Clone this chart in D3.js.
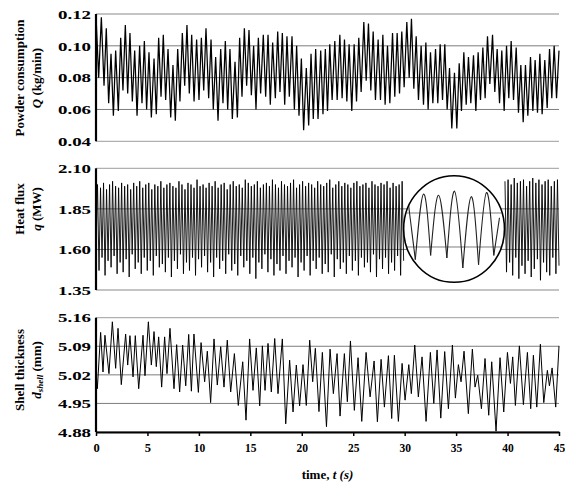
<!DOCTYPE html>
<html><head><meta charset="utf-8">
<script src="https://cdn.jsdelivr.net/npm/d3@7"></script>
<style>
html,body{margin:0;padding:0;background:#fff;}
svg{display:block;}
text{font-family:"Liberation Serif","Times New Roman",serif;font-weight:bold;fill:#000;}
</style></head><body>
<svg id="chart" width="565" height="488"></svg>
<script>
// ---------------- DATA ----------------
const timeTicks = [0, 5, 10, 15, 20, 25, 30, 35, 40, 45];
const pcTicks = [0.04, 0.06, 0.08, 0.10, 0.12];
const hfTicks = [1.35, 1.60, 1.85, 2.10];
const stTicks = [4.88, 4.95, 5.02, 5.09, 5.16];

// Powder consumption Q (kg/min): times (s) and values of the trace turning points
const pcT = [0,0.26,0.52,0.78,1.00,1.23,1.46,1.69,1.91,2.17,2.40,2.62,2.85,3.08,3.30,3.53,3.76,3.99,4.24,4.47,
 4.70,4.92,5.15,5.38,5.64,5.86,6.09,6.32,6.54,6.77,7.00,7.26,7.48,7.71,7.94,8.16,8.39,8.62,8.84,9.07,
 9.30,9.53,9.78,10.01,10.24,10.47,10.69,10.95,11.18,11.40,11.63,11.86,12.12,12.34,12.57,12.80,13.02,13.25,13.51,13.74,
 13.96,14.19,14.42,14.64,14.87,15.10,15.32,15.55,15.78,16.00,16.26,16.49,16.72,16.94,17.17,17.43,17.66,17.88,18.11,18.34,
 18.56,18.79,19.05,19.28,19.50,19.73,19.96,20.18,20.44,20.67,20.90,21.12,21.35,21.58,21.84,22.06,22.29,22.50,22.72,22.95,
 23.21,23.44,23.70,23.92,24.15,24.38,24.60,24.86,25.09,25.32,25.54,25.77,26.03,26.26,26.48,26.71,26.94,27.16,27.42,27.65,
 27.88,28.10,28.33,28.56,28.82,29.04,29.27,29.50,29.72,29.95,30.21,30.44,30.66,30.89,31.12,31.34,31.60,31.83,32.06,32.28,
 32.51,32.74,33.00,33.22,33.45,33.68,33.90,34.13,34.36,34.58,34.84,35.07,35.30,35.52,35.75,35.98,36.20,36.43,36.69,36.92,
 37.14,37.37,37.60,37.82,38.05,38.28,38.54,38.76,38.99,39.22,39.44,39.67,39.90,40.12,40.35,40.58,40.84,41.06,41.29,41.52,
 41.74,41.97,42.23,42.46,42.68,42.91,43.14,43.36,43.62,43.85,44.08,44.30,44.53,44.76,45.00];
const pcV = [0.119,0.080,0.118,0.075,0.111,0.064,0.095,0.056,0.097,0.059,0.105,0.072,0.113,0.070,0.108,0.065,0.097,0.056,0.100,0.064,
 0.103,0.060,0.096,0.055,0.092,0.057,0.105,0.068,0.107,0.066,0.098,0.055,0.088,0.053,0.098,0.065,0.108,0.075,0.113,0.070,
 0.107,0.065,0.104,0.066,0.105,0.072,0.111,0.067,0.104,0.060,0.093,0.053,0.098,0.064,0.103,0.060,0.098,0.054,0.090,0.055,
 0.105,0.068,0.111,0.075,0.110,0.069,0.100,0.060,0.105,0.070,0.107,0.068,0.107,0.063,0.102,0.067,0.109,0.071,0.108,0.063,
 0.106,0.068,0.106,0.060,0.100,0.056,0.092,0.047,0.086,0.050,0.095,0.054,0.098,0.054,0.097,0.057,0.098,0.059,0.101,0.066,
 0.103,0.066,0.107,0.067,0.104,0.065,0.101,0.059,0.101,0.065,0.105,0.071,0.115,0.078,0.114,0.072,0.109,0.066,0.104,0.066,
 0.107,0.063,0.100,0.064,0.108,0.068,0.108,0.070,0.109,0.074,0.115,0.080,0.117,0.073,0.106,0.066,0.100,0.063,0.102,0.060,
 0.096,0.064,0.098,0.064,0.101,0.066,0.101,0.060,0.086,0.048,0.083,0.048,0.089,0.059,0.096,0.063,0.093,0.064,0.094,0.059,
 0.096,0.066,0.099,0.067,0.106,0.076,0.107,0.071,0.098,0.064,0.097,0.059,0.100,0.067,0.103,0.066,0.099,0.058,0.088,0.052,
 0.088,0.056,0.093,0.059,0.091,0.058,0.095,0.057,0.091,0.061,0.098,0.067,0.100,0.067,0.097];

// Heat flux q (MW): turning points, evenly sampled over 0-29.9 s and 39.75-45 s
const hfA = [1.60,2.00,1.47,1.98,1.55,2.01,1.44,1.97,1.53,2.00,
 1.49,2.02,1.56,1.99,1.45,1.98,1.52,2.01,1.46,1.99,
 1.54,2.00,1.43,1.97,1.57,2.01,1.48,1.99,1.52,2.02,
 1.45,1.98,1.55,2.00,1.47,2.01,1.53,1.97,1.44,2.00,
 1.56,1.99,1.49,2.02,1.51,1.98,1.46,2.00,1.55,2.01,
 1.43,1.99,1.53,1.98,1.48,2.02,1.57,2.00,1.45,1.97,
 1.52,2.01,1.47,2.00,1.55,1.98,1.44,2.03,1.54,1.99,
 1.49,2.00,1.56,1.98,1.46,2.01,1.52,1.99,1.43,2.02,
 1.55,1.98,1.48,2.00,1.53,2.01,1.45,1.97,1.57,2.00,
 1.47,2.02,1.51,1.99,1.44,2.00,1.56,1.98,1.49,2.03,
 1.53,2.01,1.45,1.99,1.55,2.00,1.42,2.02,1.52,1.98,
 1.48,2.00,1.57,2.01,1.46,1.99,1.54,2.03,1.44,2.00,
 1.51,1.98,1.47,2.02,1.56,2.00,1.45,1.99,1.53,2.01,
 1.49,2.03,1.55,1.98,1.43,2.00,1.52,2.02,1.47,1.99,
 1.56,2.01,1.44,2.00,1.53,1.98,1.48,2.02,1.55,2.00,
 1.45,1.99,1.51,2.01,1.46,2.03,1.57,1.98,1.43,2.00,
 1.54,2.02,1.48,1.99,1.52,2.01,1.45,2.00,1.56,1.98,
 1.47,2.01,1.53,2.02,1.44,1.99,1.55,2.00,1.49,2.01,
 1.52,1.98,1.46,2.02,1.57,2.00,1.43,1.99,1.54,2.01,
 1.48,2.00,1.55,2.02,1.45,1.98,1.52,2.01,1.47,1.99,
 1.56,2.00,1.44,2.02,1.53];
const hfARange = [0, 29.9];
const hfB = [2.02,1.46,2.03,1.52,2.00,1.44,2.04,1.55,2.01,1.42,
 2.02,1.50,2.03,1.45,1.99,1.53,2.02,1.43,2.04,1.48,
 2.01,1.54,2.03,1.41,2.00,1.52,2.02,1.46,2.03,1.44,
 1.99,1.55,2.02,1.45,2.03,1.50];
const hfBRange = [39.75, 45];

// Zoomed inset (local time in s, value in MW)
const insetT = [0.06,0.197,0.337,0.455,0.589,0.729,0.859,0.998,1.14,1.263,1.397,1.52,1.616];
const insetV = [1.99,1.507,1.99,1.538,1.98,1.519,2.01,1.446,1.97,1.47,2.00,1.538,1.815];
const insetDomainT = [0, 1.7];
const insetGrid = [1.60, 1.85];
const insetWindow = [29.9, 39.7];   // time span hidden by the circle
const insetCenterQ = 1.726;

// Shell thickness d_shell (mm)
const stT = [0,0.13,0.45,0.68,0.87,1.26,1.59,1.91,2.14,2.46,2.88,3.08,3.30,3.60,3.82,4.15,4.57,4.76,5.09,5.38,
 5.64,5.86,6.09,6.38,6.67,6.90,7.19,7.58,7.84,8.13,8.42,8.72,9.01,9.27,9.52,9.95,10.21,10.56,10.82,11.14,
 11.47,11.79,12.12,12.44,12.76,13.09,13.45,13.83,14.26,14.58,14.93,15.26,15.58,15.91,16.17,16.43,16.72,17.04,17.37,17.69,
 18.11,18.44,18.82,19.15,19.47,19.79,20.12,20.44,20.77,21.06,21.32,21.67,22.00,22.40,22.75,23.07,23.43,23.72,24.14,24.43,
 24.73,25.11,25.47,25.83,26.25,26.64,27.03,27.35,27.71,28.03,28.42,28.74,29.00,29.39,29.75,30.04,30.40,30.65,30.98,31.33,
 31.69,32.08,32.50,32.83,33.15,33.51,33.89,34.25,34.64,34.93,35.22,35.48,35.77,36.19,36.58,36.84,37.10,37.46,37.81,38.17,
 38.46,38.88,39.27,39.63,39.99,40.28,40.50,40.76,41.15,41.54,41.93,42.25,42.51,42.84,43.19,43.52,43.87,44.07,44.33,44.68,45.00];
const stV = [5.030,4.986,5.124,5.027,5.117,5.023,5.150,5.036,5.134,4.996,5.120,5.044,5.116,5.015,5.116,4.986,5.117,5.018,5.150,5.044,
 5.126,5.040,5.113,4.990,5.113,5.023,5.134,4.986,5.094,4.978,5.093,4.993,5.119,4.980,5.120,4.977,5.099,5.003,5.078,4.952,
 5.108,4.995,5.089,4.990,5.105,4.978,5.072,4.945,5.052,4.909,5.108,4.982,5.086,4.944,5.091,4.982,5.097,4.978,5.109,4.974,
 5.108,4.900,5.056,4.929,5.044,4.944,5.045,4.945,5.105,5.003,5.085,4.930,5.075,4.893,5.083,4.974,5.072,4.919,5.072,4.954,
 5.103,4.933,5.062,4.906,5.075,4.966,5.054,4.905,5.058,4.941,5.067,4.913,5.068,4.906,5.048,4.958,5.045,4.974,5.093,4.966,
 5.064,4.906,5.075,4.950,5.081,4.914,5.077,4.937,5.093,4.963,5.045,5.003,5.078,4.925,5.083,4.990,5.019,4.937,5.060,4.921,
 5.052,4.882,5.062,4.929,5.075,4.999,5.064,4.945,5.091,4.947,5.075,4.937,5.068,4.941,5.095,4.952,5.031,4.993,5.037,4.941,5.091];

// ---------------- CHART ----------------
const svg = d3.select("#chart");
const x = d3.scaleLinear().domain([0, 45]).range([96, 559]);
const yPC = d3.scaleLinear().domain([0.04, 0.12]).range([141.3, 14]);
const yHF = d3.scaleLinear().domain([1.35, 2.10]).range([290, 168.3]);
const yST = d3.scaleLinear().domain([4.88, 5.16]).range([432, 317.7]);

function grid(y, ticks) {
  const g = svg.append("g");
  const dmin = d3.min(ticks), dmax = d3.max(ticks);
  ticks.forEach(t => {
    const edge = (t === dmin || t === dmax);
    g.append("line").attr("x1", x(0)).attr("x2", x(45))
      .attr("y1", y(t)).attr("y2", y(t))
      .attr("stroke", edge ? "#b0b0b0" : "#7d7d7d")
      .attr("stroke-width", edge ? 1.3 : 1);
  });
  g.selectAll("text").data(ticks).join("text")
    .attr("x", 91).attr("y", d => y(d)).attr("dy", "0.38em")
    .attr("text-anchor", "end")
    .attr("font-size", "12.5px")
    .attr("textLength", 33).attr("lengthAdjust", "spacingAndGlyphs")
    .text(d => d3.format(".2f")(d));
}
function leftAxis(y) {
  const r = y.range();
  svg.append("line").attr("x1", x(0)).attr("x2", x(0))
    .attr("y1", r[0]).attr("y2", r[1])
    .attr("stroke", "#000").attr("stroke-width", 2.2);
}

// Panel 1
grid(yPC, pcTicks);
svg.append("path")
  .datum(pcT.map((t, i) => [t, pcV[i]]))
  .attr("fill", "none").attr("stroke", "#000").attr("stroke-width", 1.25)
  .attr("stroke-linejoin", "miter")
  .attr("d", d3.line().x(d => x(d[0])).y(d => yPC(d[1])));
leftAxis(yPC);

// Panel 2
grid(yHF, hfTicks);
function evenSeries(vals, range) {
  const n = vals.length;
  return vals.map((v, i) => [range[0] + (range[1] - range[0]) * i / (n - 1), v]);
}
const hfLine = d3.line().x(d => x(d[0])).y(d => yHF(d[1]));
[[hfA, hfARange], [hfB, hfBRange]].forEach(([vals, rng]) => {
  svg.append("path").datum(evenSeries(vals, rng))
    .attr("fill", "none").attr("stroke", "#000").attr("stroke-width", 0.9)
    .attr("d", hfLine);
});
leftAxis(yHF);

// Inset circle
const cx = (x(insetWindow[0]) + x(insetWindow[1])) / 2;
const rx = (x(insetWindow[1]) - x(insetWindow[0])) / 2;
const cy = yHF(insetCenterQ);
const ry = 53.3;
const defs = svg.append("defs");
defs.append("clipPath").attr("id", "insetClip")
  .append("ellipse").attr("cx", cx).attr("cy", cy).attr("rx", rx - 0.5).attr("ry", ry - 0.5);
svg.append("ellipse").attr("cx", cx).attr("cy", cy).attr("rx", rx).attr("ry", ry)
  .attr("fill", "#fff").attr("stroke", "none");
const ix = d3.scaleLinear().domain(insetDomainT).range([cx - rx, cx + rx]);
const iy = d3.scaleLinear().domain([1.35, 2.10]).range([cy + 52, cy - 50]);
const ig = svg.append("g").attr("clip-path", "url(#insetClip)");
insetGrid.forEach(v => {
  ig.append("line").attr("x1", cx - rx).attr("x2", cx + rx)
    .attr("y1", iy(v)).attr("y2", iy(v))
    .attr("stroke", "#7d7d7d").attr("stroke-width", 1);
});
const insetPts = insetT.map((t, i) => [t, insetV[i]]);
const archLine = d3.line().x(d => ix(d[0])).y(d => iy(d[1])).curve(d3.curveNatural);
// segments between consecutive troughs (odd indices)
const cuts = [0];
for (let i = 1; i < insetPts.length - 1; i += 2) cuts.push(i);
cuts.push(insetPts.length - 1);
for (let k = 0; k < cuts.length - 1; k++) {
  ig.append("path").datum(insetPts.slice(cuts[k], cuts[k + 1] + 1))
    .attr("fill", "none").attr("stroke", "#222").attr("stroke-width", 1.1)
    .attr("d", archLine);
}
svg.append("ellipse").attr("cx", cx).attr("cy", cy).attr("rx", rx).attr("ry", ry)
  .attr("fill", "none").attr("stroke", "#000").attr("stroke-width", 1.6);

// Panel 3
grid(yST, stTicks);
svg.append("path")
  .datum(stT.map((t, i) => [t, stV[i]]))
  .attr("fill", "none").attr("stroke", "#000").attr("stroke-width", 1)
  .attr("d", d3.line().x(d => x(d[0])).y(d => yST(d[1])));
leftAxis(yST);
const xAxis = d3.axisBottom(x).tickValues(timeTicks).tickSize(4).tickSizeOuter(0).tickFormat(d3.format("d"));
const xg = svg.append("g").attr("transform", `translate(0,${yST.range()[0]})`).call(xAxis);
xg.select(".domain").attr("stroke", "#000").attr("stroke-width", 2);
xg.selectAll(".tick line").attr("stroke", "#000").attr("stroke-width", 1.5);
xg.selectAll(".tick text")
  .attr("font-family", '"Liberation Serif","Times New Roman",serif')
  .attr("font-weight", "bold").attr("font-size", "12.5px").attr("fill", "#000")
  .attr("y", 11).attr("dy", "0.71em")
  .each(function(d) { if (String(d).length > 1) d3.select(this).attr("textLength", 11.5).attr("lengthAdjust", "spacingAndGlyphs"); });

// Axis title
const xt = svg.append("text").attr("x", (x(0) + x(45)) / 2).attr("y", 479)
  .attr("text-anchor", "middle").attr("font-size", "13px");
xt.append("tspan").text("time, ");
xt.append("tspan").attr("font-style", "italic").text("t (s)");

// Y titles
function yTitle(cyT, line1, line2parts) {
  const g = svg.append("g");
  g.append("text").attr("transform", `translate(24,${cyT}) rotate(-90)`)
    .attr("text-anchor", "middle").attr("font-size", "13px").text(line1);
  const t2 = g.append("text").attr("transform", `translate(41,${cyT}) rotate(-90)`)
    .attr("text-anchor", "middle").attr("font-size", "13px");
  line2parts.forEach(p => {
    const s = t2.append("tspan").text(p.t);
    if (p.it) s.attr("font-style", "italic");
    if (p.sub) s.attr("font-size", "9px").attr("baseline-shift", "-25%");
  });
}
yTitle(78, "Powder consumption", [{t: "Q", it: true}, {t: " (kg/min)"}]);
yTitle(209, "Heat flux", [{t: "q", it: true}, {t: " (MW)"}]);
yTitle(370, "Shell thickness", [{t: "d", it: true}, {t: "shell", it: true, sub: true}, {t: " (mm)"}]);
</script>
</body></html>
